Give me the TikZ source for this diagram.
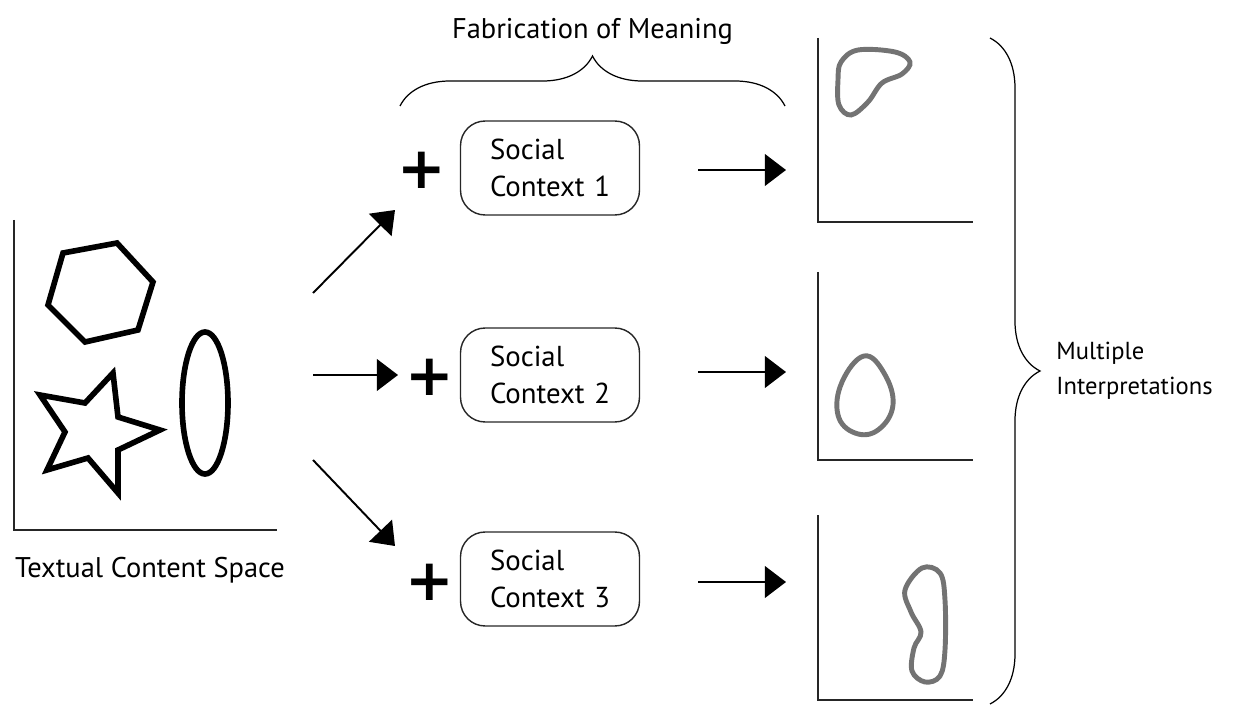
\documentclass[tikz,border=0pt]{standalone}
\usepackage{fontspec}
\setmainfont{PT Sans}
\newfontfamily\plusfont{DejaVu Sans}
\usetikzlibrary{arrows.meta, decorations.pathreplacing, positioning}

\begin{document}
\begin{tikzpicture}[x=0.02cm, y=-0.02cm]
	\tikzstyle{axis}=[line width=1.1pt, black!85]
	\tikzstyle{outline}=[line width=3.2pt, line join=miter]
	\tikzstyle{blob}=[line width=2.8pt, draw=black!55]
	\tikzstyle{context}=[rectangle, draw=black!85, line width=0.8pt, rounded corners=14pt, minimum width=3.58cm, minimum height=1.88cm, align=left, font=\fontsize{16.4}{21}\selectfont, text width=2.4cm]
	\tikzstyle{plus}=[font=\plusfont\bfseries\fontsize{33}{33}\selectfont, inner sep=0pt]
	\tikzstyle{connect}=[line width=1.1pt, -{Triangle[length=12pt, width=18pt]}]
	\tikzstyle{lab}=[font=\fontsize{16.2}{20}\selectfont, align=left]
	\tikzstyle{bracedeco}=[decorate, decoration={brace, amplitude=1cm}, line width=0.7pt]
	\useasboundingbox (0,0) rectangle (1249,706);

	% textual content space
	\draw[axis] (14,220) -- (14,530) -- (277,530);
	\draw[outline] (63,253) -- (117,243) -- (153,282) -- (138,330) -- (85,342) -- (48,305) -- cycle;
	\draw[outline] (113,373) -- (118,417) -- (160,430) -- (118,450) -- (118,493) -- (88,458)
		-- (47,470) -- (65,432) -- (40,395) -- (85,403) -- cycle;
	\draw[outline] (205,403) ellipse (23 and 71);
	\node[lab] (tcs) at (150,570) {Textual Content Space};

	% social contexts
	\node[context] (ctx1) at (550,168) {Social\\Context~1};
	\node[context] (ctx2) at (550,375) {Social\\Context~2};
	\node[context] (ctx3) at (550,579) {Social\\Context~3};
	\node[plus] (plus1) at (422,170) {+};
	\node[plus] (plus2) at (430,377) {+};
	\node[plus] (plus3) at (430,582) {+};

	\coordinate (s1) at (313,293);
	\coordinate (s2) at (313,375);
	\coordinate (s3) at (313,460);
	\coordinate (t1) at (395,210);
	\coordinate (t2) at (398,375);
	\coordinate (t3) at (395,546);
	\draw[connect] (s1) -- (t1);
	\draw[connect] (s2) -- (t2);
	\draw[connect] (s3) -- (t3);

	\coordinate (r1) at (698,170);
	\coordinate (r2) at (698,372);
	\coordinate (r3) at (698,582);
	\coordinate (p1) at (786,170);
	\coordinate (p2) at (786,372);
	\coordinate (p3) at (786,582);
	\draw[connect] (r1) -- (p1);
	\draw[connect] (r2) -- (p2);
	\draw[connect] (r3) -- (p3);

	% interpretations
	\draw[axis] (818,38) -- (818,222) -- (973,222);
	\draw[axis] (818,272) -- (818,460) -- (973,460);
	\draw[axis] (818,515) -- (818,700) -- (973,700);
	\draw[blob] plot[smooth cycle, tension=0.6] coordinates {(841,62) (858,50) (895,52) (910,62)
		(902,74) (882,83) (868,102) (851,115) (839,105) (838,80)};
	\draw[blob] plot[smooth cycle, tension=0.7] coordinates {(864,356) (884,373) (893,405)
		(878,430) (855,433) (838,415) (842,382)};
	\draw[blob] plot[smooth cycle, tension=0.6] coordinates {(922,568) (940,573) (945,600)
		(945,650) (940,676) (925,682) (912,671) (914,648) (921,632) (911,612) (905,590)};

	% braces
	\coordinate (b1) at (400,106);
	\coordinate (b2) at (785,106);
	\draw[bracedeco] (b1) -- (b2) node[midway, above=1.1cm, lab] (fab) {Fabrication of Meaning};
	\coordinate (c1) at (990,38);
	\coordinate (c2) at (990,704);
	\draw[bracedeco] (c1) -- (c2) node[midway, right=1.2cm, lab, font=\fontsize{14}{20}\selectfont] (mult) {Multiple\\Interpretations};
\end{tikzpicture}
\end{document}
